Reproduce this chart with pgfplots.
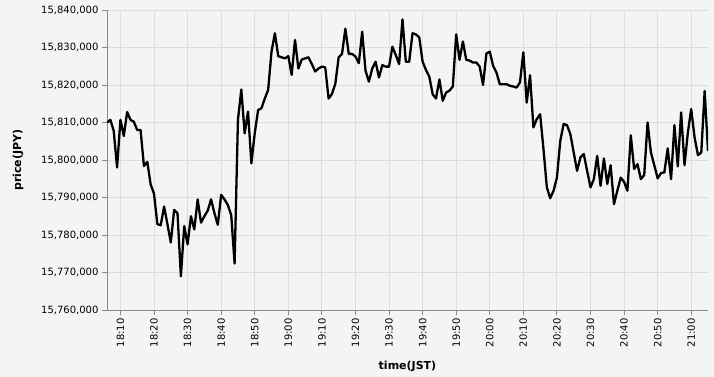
\documentclass[border=0pt]{standalone}
\usepackage{fontspec}
\setmainfont{DejaVu Sans}
\usepackage{pgfplots}
\usepackage{pgfplotstable}
\pgfplotsset{compat=1.18}
\definecolor{bg}{HTML}{F4F4F4}
\definecolor{gridc}{HTML}{DDDDDD}
\definecolor{axisc}{HTML}{888888}
\pgfplotstableread{
t p
6 15810000
7 15810700
8 15807800
9 15798000
10 15810700
11 15806400
12 15812800
13 15810700
14 15810200
15 15808000
16 15808000
17 15798400
18 15799500
19 15793500
20 15791000
21 15782900
22 15782600
23 15787600
24 15782900
25 15778000
26 15786700
27 15785800
28 15769000
29 15782400
30 15777500
31 15785000
32 15781500
33 15789500
34 15783300
35 15785000
36 15786500
37 15789500
38 15785800
39 15782700
40 15790700
41 15789500
42 15788000
43 15785300
44 15772400
45 15810700
46 15818800
47 15807100
48 15812900
49 15799100
50 15807100
51 15813300
52 15813800
53 15816400
54 15818700
55 15828900
56 15833800
57 15827700
58 15827400
59 15827100
60 15827700
61 15822700
62 15832000
63 15824400
64 15826800
65 15827100
66 15827400
67 15825600
68 15823600
69 15824400
70 15824900
71 15824700
72 15816400
73 15817600
74 15820300
75 15827400
76 15828300
77 15835000
78 15828300
79 15828300
80 15827600
81 15825800
82 15834200
83 15823800
84 15820900
85 15824400
86 15826200
87 15822000
88 15825300
89 15824900
90 15824900
91 15830200
92 15828000
93 15825600
94 15837500
95 15826200
96 15826200
97 15833800
98 15833500
99 15832700
100 15826200
101 15824000
102 15822200
103 15817500
104 15816400
105 15821500
106 15815800
107 15818000
108 15818500
109 15819600
110 15833500
111 15826700
112 15831600
113 15826700
114 15826500
115 15826000
116 15826000
117 15824900
118 15820000
119 15828400
120 15828900
121 15825100
122 15823300
123 15820200
124 15820200
125 15820200
126 15819800
127 15819600
128 15819300
129 15820700
130 15828700
131 15815300
132 15822600
133 15808700
134 15810900
135 15812200
136 15802900
137 15792700
138 15789800
139 15791800
140 15795300
141 15805100
142 15809600
143 15809300
144 15806900
145 15802000
146 15797100
147 15800700
148 15801600
149 15797100
150 15792700
151 15794900
152 15801100
153 15793100
154 15800400
155 15793600
156 15798600
157 15788200
158 15791800
159 15795300
160 15794200
161 15791800
162 15806600
163 15797600
164 15798900
165 15794900
166 15796000
167 15810000
168 15802000
169 15798600
170 15795100
171 15796500
172 15796700
173 15803100
174 15794900
175 15809300
176 15798300
177 15812700
178 15798600
179 15807300
180 15813600
181 15806000
182 15801300
183 15802000
184 15818400
185 15802400
}\data
\begin{document}
\begin{tikzpicture}[x=1pt,y=1pt]
\fill[bg] (-107,-67) rectangle (607,310);
\useasboundingbox (-107,-67) rectangle (607,310);
\begin{axis}[
  at={(0,0)}, anchor=south west,
  scale only axis, width=601pt, height=300pt,
  xmin=6, xmax=185,
  ymin=15760000, ymax=15840000,
  ytick={15760000,15770000,15780000,15790000,15800000,15810000,15820000,15830000,15840000},
  scaled y ticks=false,
  /pgf/number format/.cd, fixed, 1000 sep={,}, assume math mode=true, /pgfplots/.cd,
  xtick={10,20,30,40,50,60,70,80,90,100,110,120,130,140,150,160,170,180},
  xticklabels={18:10,18:20,18:30,18:40,18:50,19:00,19:10,19:20,19:30,19:40,19:50,20:00,20:10,20:20,20:30,20:40,20:50,21:00},
  xticklabel style={rotate=90, anchor=east, font=\fontsize{10}{12}\selectfont},
  yticklabel style={font=\fontsize{10}{12}\selectfont},
  axis x line*=bottom, axis y line*=left,
  axis line style={draw=axisc, -, line width=0.9pt},
  tick align=outside, major tick length=5pt,
  tick style={draw=axisc, line width=0.9pt},
  grid=major, grid style={draw=gridc, line width=0.9pt},
  xlabel={time(JST)}, ylabel={price(JPY)},
  xlabel style={at={(axis description cs:0.5,-0.187)}, anchor=center, font=\bfseries\fontsize{11}{13}\selectfont},
  ylabel style={at={(axis description cs:-0.148,0.5)}, anchor=center, font=\bfseries\fontsize{11}{13}\selectfont},
]
\addplot[black, line width=2.3pt, line join=round, no marks] table[x=t,y=p]{\data};
\end{axis}
\end{tikzpicture}
\end{document}
